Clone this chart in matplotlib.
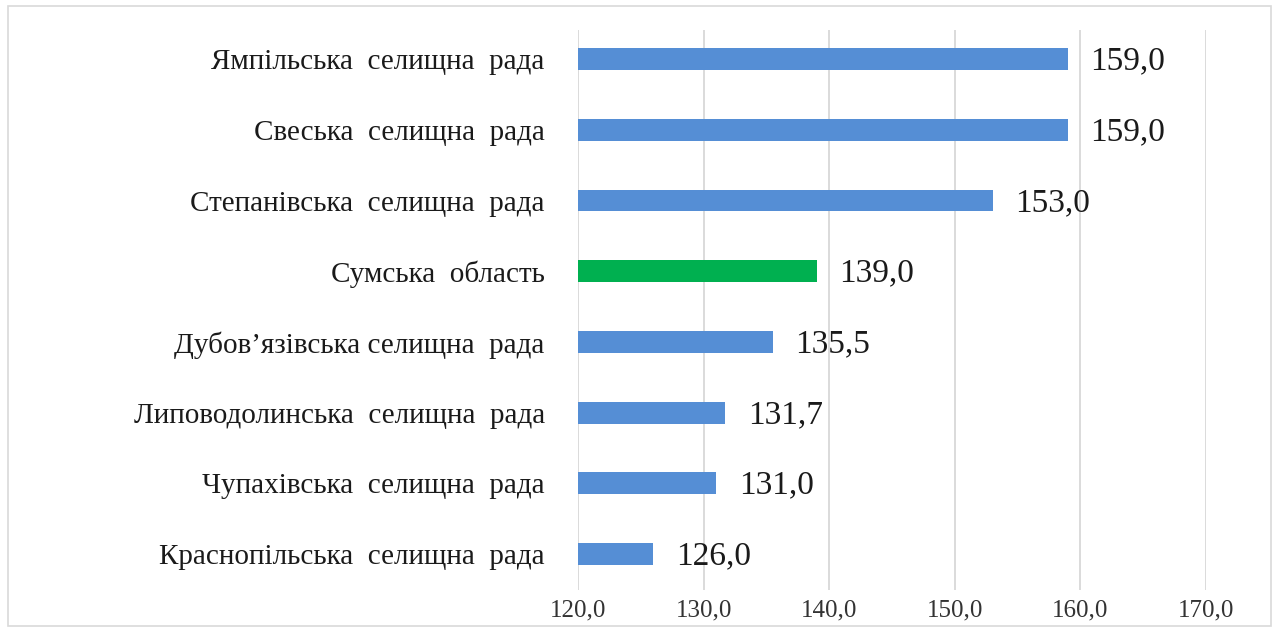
import matplotlib
matplotlib.use("Agg")
import matplotlib.pyplot as plt
from matplotlib.patches import Rectangle

# data, top to bottom as in the chart
categories = [
    "Ямпільська  селищна  рада",
    "Свеська  селищна  рада",
    "Степанівська  селищна  рада",
    "Сумська  область",
    "Дубов’язівська селищна  рада",
    "Липоводолинська  селищна  рада",
    "Чупахівська  селищна  рада",
    "Краснопільська  селищна  рада",
]
values = [159.0, 159.0, 153.0, 139.0, 135.5, 131.7, 131.0, 126.0]
highlight = "Сумська  область"
xticks = [120, 130, 140, 150, 160, 170]

BLUE = "#558ed5"
GREEN = "#00b050"
GRID = "#d4d4d4"

plt.rcParams["font.family"] = ["Liberation Serif", "DejaVu Serif"]

fig = plt.figure(figsize=(12.79, 6.29), dpi=100)
ax = fig.add_axes([0.452, 0.062, 0.491, 0.890])

base = xticks[0]
ypos = list(range(len(categories)))
colors = [GREEN if c == highlight else BLUE for c in categories]
ax.barh(ypos, [v - base for v in values], left=base, height=0.31,
        color=colors, zorder=3)

for y, v in zip(ypos, values):
    ax.text(v + 1.8, y + 0.03, f"{v:.1f}".replace(".", ","), va="center",
            ha="left", fontsize=24, color="#1a1a1a")

ax.set_xlim(120, 170)
ax.set_ylim(7.51, -0.41)
ax.set_xticks(xticks)
ax.set_xticklabels([f"{t:.1f}".replace(".", ",") for t in xticks],
                   fontsize=18, color="#333333")
ax.set_yticks(ypos)
ax.set_yticklabels(categories, fontsize=21, color="#1a1a1a")
ax.tick_params(axis="both", length=0)
ax.tick_params(axis="y", pad=24)
ax.tick_params(axis="x", pad=7)
ax.grid(axis="x", color=GRID, lw=1.2, zorder=0)
for s in ax.spines.values():
    s.set_visible(False)

# light frame round the whole chart
fig.patches.append(Rectangle((0.006, 0.004), 0.988, 0.987, transform=fig.transFigure,
                             fill=False, edgecolor="#d9d9d9", lw=1.2))

fig.savefig("out.png", dpi=100)
